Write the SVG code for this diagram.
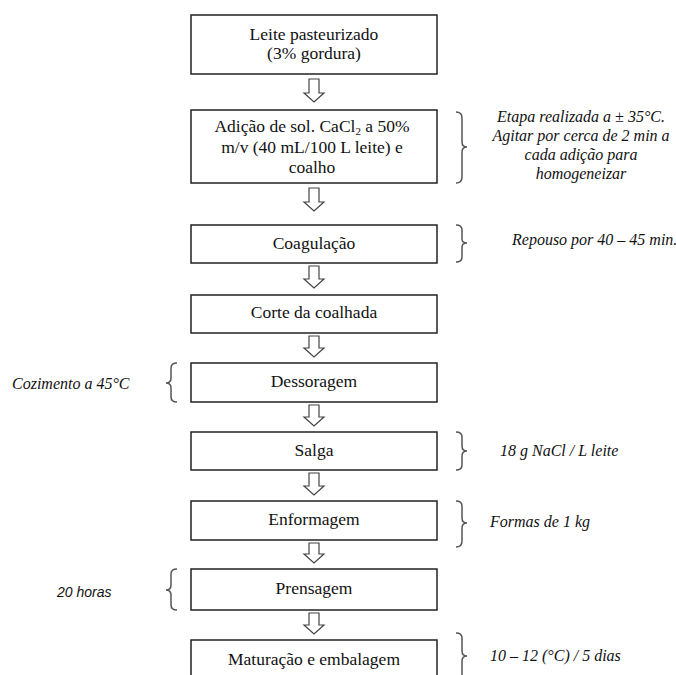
<svg xmlns="http://www.w3.org/2000/svg" width="676" height="675" viewBox="0 0 676 675">
<style>
.box{fill:#fff;stroke:#222;stroke-width:1.5}
.t{font-family:"Liberation Serif","Times New Roman","DejaVu Serif",serif;font-size:17.5px;fill:#111;text-anchor:middle}
.n{font-family:"Liberation Serif","Times New Roman","DejaVu Serif",serif;font-size:16px;font-style:italic;fill:#111}
.c{font-family:"Liberation Sans",Arial,sans-serif;font-size:14px;font-style:italic;fill:#111}
.arr{fill:#fff;stroke:#444;stroke-width:1.2}
.br{fill:none;stroke:#555;stroke-width:1.5}
</style>
<rect width="676" height="675" fill="#fff"/>
<g id="connectors">
<path class="arr" d="M309,79 H319 V93 H324 L314,102 L304,93 H309 Z"/>
<path class="arr" d="M309,188 H319 V202 H324 L314,211 L304,202 H309 Z"/>
<path class="arr" d="M309,266 H319 V279 H324 L314,288 L304,279 H309 Z"/>
<path class="arr" d="M309,336 H319 V348 H324 L314,357 L304,348 H309 Z"/>
<path class="arr" d="M309,405 H319 V417 H324 L314,426 L304,417 H309 Z"/>
<path class="arr" d="M309,473 H319 V486 H324 L314,495 L304,486 H309 Z"/>
<path class="arr" d="M309,543 H319 V554 H324 L314,563 L304,554 H309 Z"/>
<path class="arr" d="M309,613 H319 V625 H324 L314,634 L304,625 H309 Z"/>
</g>
<g id="n1"><rect class="box" x="191" y="15" width="246" height="59"/>
<text class="t" x="314" y="40">Leite pasteurizado</text><text class="t" x="314" y="59">(3% gordura)</text></g>
<g id="n2"><rect class="box" x="191" y="110" width="246" height="73"/>
<text class="t" x="312" y="132">Adição de sol. CaCl<tspan font-size="11" dy="2.5">2</tspan><tspan dy="-2.5"> a 50%</tspan></text>
<text class="t" x="312" y="153">m/v (40 mL/100 L leite) e</text>
<text class="t" x="312" y="173">coalho</text></g>
<g id="n3"><rect class="box" x="191" y="225" width="246" height="38"/><text class="t" x="314" y="249">Coagulação</text></g>
<g id="n4"><rect class="box" x="191" y="295" width="246" height="38"/><text class="t" x="314" y="318">Corte da coalhada</text></g>
<g id="n5"><rect class="box" x="191" y="363" width="246" height="39"/><text class="t" x="314" y="387">Dessoragem</text></g>
<g id="n6"><rect class="box" x="191" y="432" width="246" height="38"/><text class="t" x="314" y="456">Salga</text></g>
<g id="n7"><rect class="box" x="191" y="501" width="246" height="39"/><text class="t" x="314" y="525">Enformagem</text></g>
<g id="n8"><rect class="box" x="191" y="569" width="246" height="41"/><text class="t" x="314" y="594">Prensagem</text></g>
<g id="n9"><rect class="box" x="191" y="640" width="246" height="50"/><text class="t" x="314" y="665">Maturação e embalagem</text></g>
<g id="braces">
<path class="br" d="M456,112 Q462,112 462,118 V142 Q462,147 467,147 Q462,147 462,152 V177 Q462,183 456,183"/>
<path class="br" d="M456,225 Q462,225 462,230 V239 Q462,243 467,243 Q462,243 462,247 V257 Q462,262 456,262"/>
<path class="br" d="M456,432 Q462,432 462,437 V446 Q462,451 467,451 Q462,451 462,456 V465 Q462,470 456,470"/>
<path class="br" d="M456,501 Q462,501 462,506 V518 Q462,523 467,523 Q462,523 462,528 V541 Q462,547 456,547"/>
<path class="br" d="M456,633 Q462,633 462,638 V651 Q462,656 467,656 Q462,656 462,661 V680"/>
<path class="br" d="M177,363 Q171,363 171,368 V378 Q171,383 166,383 Q171,383 171,388 V397 Q171,402 177,402"/>
<path class="br" d="M177,569 Q171,569 171,574 V585 Q171,590 166,590 Q171,590 171,595 V605 Q171,610 177,610"/>
</g>
<g id="notes">
<text class="n" x="581" y="122" text-anchor="middle">Etapa realizada a ± 35°C.</text>
<text class="n" x="581" y="141" text-anchor="middle">Agitar por cerca de 2 min a</text>
<text class="n" x="581" y="160" text-anchor="middle">cada adição para</text>
<text class="n" x="581" y="179" text-anchor="middle">homogeneizar</text>
<text class="n" x="512" y="245">Repouso por 40 – 45 min.</text>
<text class="n" x="500" y="456">18 g NaCl / L leite</text>
<text class="n" x="490" y="527">Formas de 1 kg</text>
<text class="n" x="490" y="661">10 – 12 (°C) / 5 dias</text>
<text class="n" x="12" y="389">Cozimento a 45°C</text>
<text class="c" x="57" y="597">20 horas</text>
</g>
</svg>
